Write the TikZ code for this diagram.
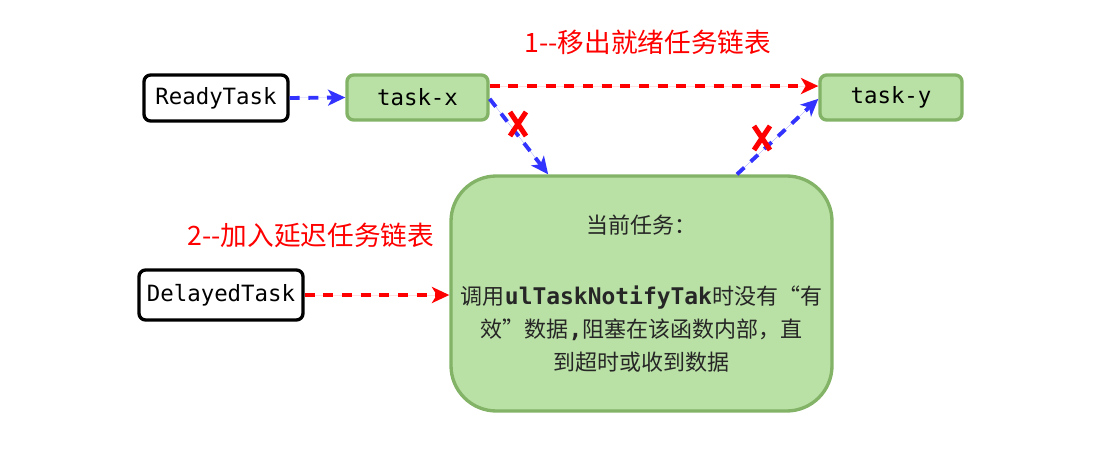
\documentclass[tikz,border=0pt]{standalone}
\usepackage{fontspec}
\setmonofont{DejaVu Sans Mono}
\newfontfamily\cjk{Noto Sans CJK SC}
\usetikzlibrary{arrows.meta}
\definecolor{gfill}{HTML}{B9E0A5}
\definecolor{gline}{HTML}{82B366}
\definecolor{bblue}{HTML}{3333FF}
\definecolor{rred}{HTML}{FF0000}
\tikzset{
  greenbox/.style={draw=gline, fill=gfill, line width=2.5pt, rounded corners=5pt,
    font=\fontsize{16.8}{20}\selectfont\ttfamily, inner sep=0pt},
  blackbox/.style={draw=black, fill=white, line width=2.5pt, rounded corners=5pt,
    font=\fontsize{16.8}{20}\selectfont\ttfamily, inner sep=0pt},
  bigbox/.style={draw=gline, fill=gfill, line width=2.5pt, rounded corners=34pt,
    font=\fontsize{16.5}{24.75}\selectfont\cjk, inner sep=0pt, align=center, text=black!85},
  conn/.style={line width=2.9pt, dash pattern=on 7.5pt off 6.5pt,
    -{Stealth[length=13pt,width=12pt,inset=3.5pt]}},
  blueconn/.style={conn, draw=bblue, fill=bblue},
  redconn/.style={conn, draw=rred, fill=rred},
  xmark/.style={draw=rred, line width=3.8pt},
  redlabel/.style={text=rred, font=\fontsize{20}{24}\selectfont\cjk, inner sep=0pt}
}
\begin{document}
\begin{tikzpicture}[x=0.75pt,y=-0.75pt]
\path[use as bounding box] (0,0) rectangle (1116,449);

\node[blackbox, minimum width=108pt, minimum height=34.5pt] (rt) at (216,98) {ReadyTask};
\node[greenbox, minimum width=105.75pt, minimum height=33.75pt] (tx) at (417.5,97.5) {task-x};
\node[greenbox, minimum width=106.5pt, minimum height=33.75pt] (ty) at (891,97.5) {task-y};
\node[blackbox, minimum width=123pt, minimum height=37.5pt] (dt) at (221,295) {DelayedTask};
\node[bigbox, minimum width=285.75pt, minimum height=176.25pt] (big) at (641.5,293.5)
  {当前任务：\\[28.5pt]
   调用{\fontsize{17.2}{24.75}\selectfont\ttfamily\bfseries ulTaskNotifyTak}时没有“有\\
   效”数据{\fontsize{17.2}{24.75}\selectfont\ttfamily\bfseries ,}阻塞在该函数内部，直\\
   到超时或收到数据};

\node[redlabel] (l1) at (648,42) {1--移出就绪任务链表};
\node[redlabel] (l2) at (311,235) {2--加入延迟任务链表};

\draw[blueconn] (rt.east) -- (tx.west);
\draw[redconn] ([yshift=8.6pt]tx.east) -- ([yshift=8.6pt]ty.west);
\draw[blueconn] ([yshift=-1pt]tx.east) -- ([xshift=-70pt]big.north);
\draw[blueconn] ([xshift=71.6pt]big.north) -- ([yshift=-1pt]ty.west);
\draw[redconn] (dt.east) -- (dt.east -| big.west);

\draw[xmark] (518,124) +(-8,-12) -- +(8,12);
\draw[xmark] (518,124) +(8,-12) -- +(-8,12);
\draw[xmark] (762,138) +(-8,-12) -- +(8,12);
\draw[xmark] (762,138) +(8,-12) -- +(-8,12);
\end{tikzpicture}
\end{document}
